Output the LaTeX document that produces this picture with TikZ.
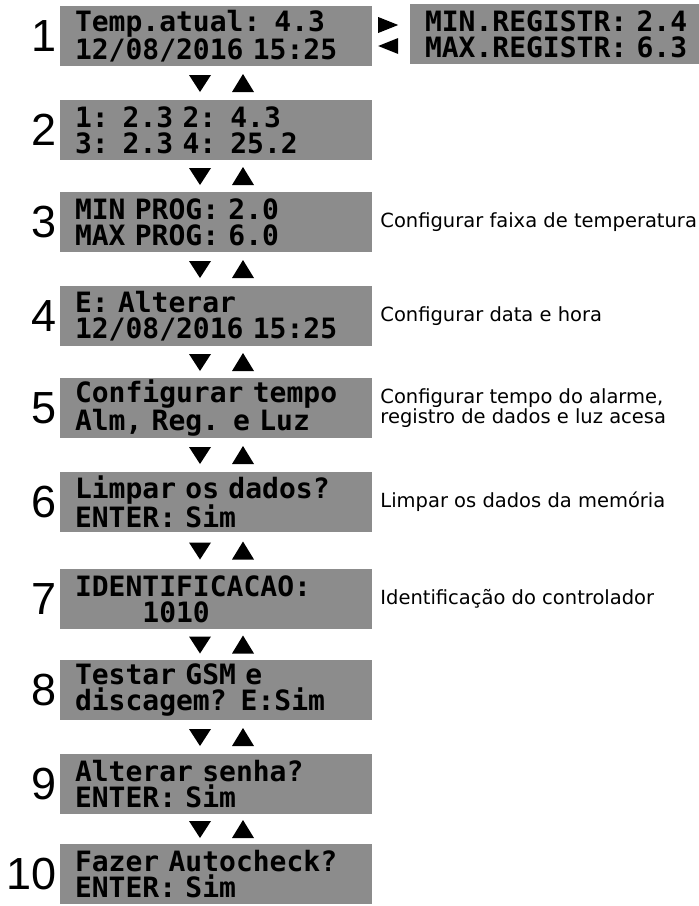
\documentclass[tikz,border=0pt]{standalone}
\usepackage{fontspec}
\setmainfont{DejaVu Sans}
\newfontfamily\lcdfont{DejaVu Sans Mono}
\newfontfamily\numfont{Liberation Sans}
\usetikzlibrary{positioning,calc}

\begin{document}
\begin{tikzpicture}[x=1pt,y=-1pt,
    lcd/.style={rectangle,fill=black!45,minimum height=60pt,text width=282pt,
        inner xsep=15pt,inner ysep=0pt,align=left,
        font={\lcdfont\bfseries\fontsize{28}{26}\selectfont}},
    num/.style={inner sep=0pt,font={\numfont\fontsize{45}{45}\selectfont}},
    desc/.style={inner sep=0pt,align=left,font={\fontsize{19.5}{20}\selectfont}}]
        \clip (0,0) rectangle (699,906);

        \node[lcd] (lcd1) at (216,36) {Temp.atual: 4.3\\12/08/2016 15:25};
        \node[lcd] (lcd2) at (216,130) {1: 2.3 2: 4.3\\3: 2.3 4: 25.2};
        \node[lcd] (lcd3) at (216,222) {MIN PROG: 2.0\\MAX PROG: 6.0};
        \node[lcd] (lcd4) at (216,316) {E: Alterar\\12/08/2016 15:25};
        \node[lcd] (lcd5) at (216,408) {Configurar tempo\\Alm, Reg. e Luz};
        \node[lcd] (lcd6) at (216,502) {Limpar os dados?\\ENTER: Sim};
        \node[lcd] (lcd7) at (216,599) {IDENTIFICACAO:\\\phantom{IDEN}1010};
        \node[lcd] (lcd8) at (216,690) {Testar GSM e\\discagem? E:Sim};
        \node[lcd] (lcd9) at (216,784) {Alterar senha?\\ENTER: Sim};
        \node[lcd] (lcd10) at (216,874) {Fazer Autocheck?\\ENTER: Sim};
        \node[lcd] (lcdr) at (566,34) {MIN.REGISTR: 2.4\\MAX.REGISTR: 6.3};

        \foreach \i in {1,...,10}
            \node[num,left=3pt of lcd\i] (n\i) {\i};

        \node[desc,right=8pt of lcd3] (d3) {Configurar faixa de temperatura};
        \node[desc,right=8pt of lcd4] (d4) {Configurar data e hora};
        \node[desc,right=8pt of lcd5] (d5) {Configurar tempo do alarme,\\registro de dados e luz acesa};
        \node[desc,right=8pt of lcd6] (d6) {Limpar os dados da memória};
        \node[desc,right=8pt of lcd7] (d7) {Identificação do controlador};

        % down / up keys between the screens
        \foreach \i/\j in {1/2,2/3,3/4,4/5,5/6,6/7,7/8,8/9,9/10} {
            \coordinate (g\i) at ($(lcd\i.south)!0.5!(lcd\j.north)$);
            \fill ($(g\i)+(-27,-8)$) -- ++(22,0) -- ++(-11,17) -- cycle;
            \fill ($(g\i)+(16,9)$) -- ++(22,0) -- ++(-11,-18) -- cycle;
        }

        % right / left keys
        \fill ([shift={(6,-19)}]lcd1.east) -- ++(20,8) -- ++(-20,8) -- cycle;
        \fill ([shift={(26,2)}]lcd1.east) -- ++(-20,8) -- ++(20,8) -- cycle;
    \end{tikzpicture}
\end{document}
